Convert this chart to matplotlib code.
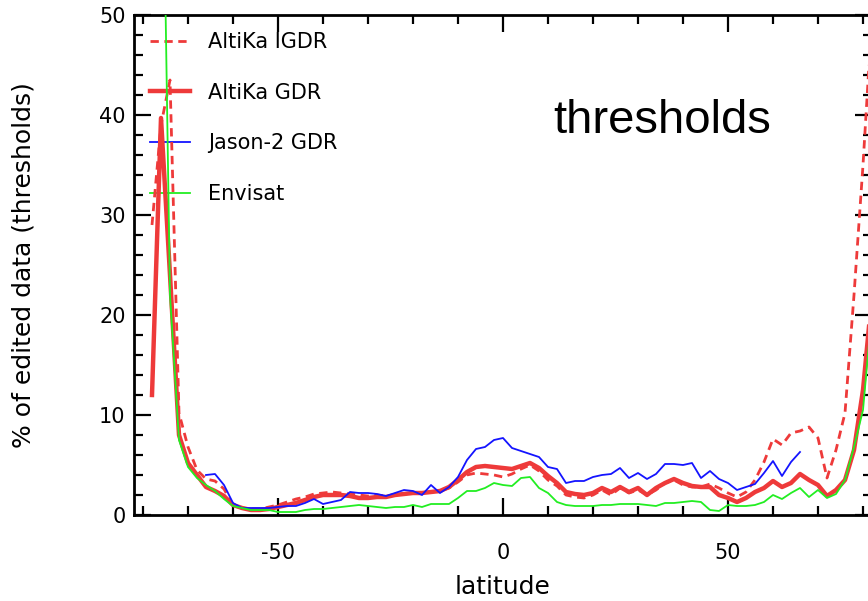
import numpy as np
import matplotlib
matplotlib.use("Agg")
import matplotlib.pyplot as plt
from matplotlib.ticker import MultipleLocator

plt.rcParams['font.family'] = ['DejaVu Sans']
plt.rcParams['axes.unicode_minus'] = False

# Latitude bins (2 degrees) for each mission
lat_altika = np.arange(-78, 83, 2)
lat_jason2 = np.arange(-66, 67, 2)
lat_envisat = np.arange(-76, 83, 2)

# Percentage of edited data per latitude bin
altika_igdr = [29.0, 39.0, 43.5, 10.2, 6.8, 4.5, 3.6, 3.4, 2.6, 1.0,
               0.7, 0.6, 0.6, 0.8, 1.0, 1.3, 1.6, 1.8, 2.1, 2.2,
               2.3, 2.2, 2.1, 2.0, 1.9, 2.0, 1.9, 2.0, 2.1, 2.2,
               2.2, 2.3, 2.4, 2.7, 3.3, 4.0, 4.2, 4.1, 4.0, 3.8,
               4.1, 4.6, 5.0, 4.4, 3.5, 2.9, 2.0, 1.8, 1.7, 2.0,
               2.5, 2.0, 2.7, 2.2, 2.5, 2.0, 2.5, 3.2, 3.5, 3.0,
               2.8, 2.8, 3.1, 2.7, 2.2, 1.8, 2.3, 3.5, 5.3, 7.6,
               7.0, 8.2, 8.4, 8.8, 7.7, 3.7, 6.5, 10.2, 22.0, 35.0,
               50.0]
altika_gdr = [12.0, 39.7, 24.0, 8.0, 5.2, 4.0, 2.8, 2.4, 1.9, 1.0,
              0.7, 0.5, 0.5, 0.6, 0.8, 1.0, 1.2, 1.5, 1.8, 2.0,
              2.0, 2.0, 1.9, 1.7, 1.7, 1.8, 1.8, 2.0, 2.1, 2.2,
              2.2, 2.3, 2.4, 2.8, 3.5, 4.3, 4.8, 4.9, 4.8, 4.7,
              4.6, 4.9, 5.2, 4.7, 3.9, 3.2, 2.3, 2.1, 2.0, 2.2,
              2.7, 2.3, 2.8, 2.3, 2.7, 2.0, 2.7, 3.2, 3.6, 3.2,
              2.9, 2.8, 2.8, 2.0, 1.7, 1.3, 1.7, 2.3, 2.7, 3.4,
              2.8, 3.2, 4.1, 3.5, 3.0, 1.9, 2.5, 3.5, 6.5, 12.5,
              22.0]
jason2_gdr = [4.0, 4.1, 3.0, 1.2, 0.7, 0.7, 0.7, 0.7, 0.8, 0.9,
              0.9, 1.2, 1.6, 1.1, 1.3, 1.5, 2.3, 2.2, 2.2, 2.1,
              1.9, 2.2, 2.5, 2.4, 2.0, 3.0, 2.2, 2.8, 3.8, 5.5,
              6.6, 6.8, 7.5, 7.7, 6.7, 6.4, 6.1, 5.8, 4.8, 4.6,
              3.2, 3.4, 3.4, 3.8, 4.0, 4.1, 4.7, 3.7, 4.2, 3.6,
              4.1, 5.1, 5.1, 5.0, 5.2, 3.7, 4.4, 3.6, 3.2, 2.5,
              2.8, 3.1, 4.2, 5.4, 3.9, 5.3, 6.3]
envisat = [80.0, 22.0, 7.5, 4.8, 3.7, 3.0, 2.4, 1.6, 0.9, 0.7,
           0.5, 0.5, 0.5, 0.3, 0.3, 0.3, 0.5, 0.6, 0.6, 0.7,
           0.8, 0.9, 1.0, 0.9, 0.8, 0.7, 0.8, 0.8, 1.0, 0.8,
           1.1, 1.1, 1.1, 1.7, 2.4, 2.4, 2.7, 3.2, 3.0, 2.9,
           3.7, 3.8, 2.7, 2.2, 1.3, 1.0, 0.9, 0.9, 0.9, 1.0,
           1.0, 1.1, 1.1, 1.1, 1.0, 0.9, 1.2, 1.2, 1.3, 1.4,
           1.3, 0.5, 0.4, 1.0, 0.9, 0.9, 1.0, 1.3, 2.0, 1.6,
           2.2, 2.7, 1.8, 2.5, 1.7, 2.1, 3.5, 6.8, 10.5, 20.5]

series_labels = ["AltiKa IGDR", "AltiKa GDR", "Jason-2 GDR", "Envisat"]

red = '#EE3A3A'
blue = '#1414FF'
green = '#22EE22'

fig = plt.figure(figsize=(8.68, 6.01), dpi=100)
ax = fig.add_axes([134 / 868, 86 / 601, 738 / 868, 500 / 601])

l_igdr, = ax.plot(lat_altika, altika_igdr, color=red, lw=2.0,
                  dashes=(3.0, 2.0), zorder=3)
l_gdr, = ax.plot(lat_altika, altika_gdr, color=red, lw=3.2, zorder=2,
                 solid_joinstyle='round')
l_j2, = ax.plot(lat_jason2, jason2_gdr, color=blue, lw=1.3, zorder=4)
l_en, = ax.plot(lat_envisat, envisat, color=green, lw=1.3, zorder=5)

ax.set_xlim(-82, 82)
ax.set_ylim(0, 50)
ax.xaxis.set_major_locator(MultipleLocator(50))
ax.xaxis.set_minor_locator(MultipleLocator(10))
ax.yaxis.set_major_locator(MultipleLocator(10))
ax.yaxis.set_minor_locator(MultipleLocator(2))
ax.tick_params(which='both', direction='in', top=True, right=True,
               width=1.6, labelsize=15, color='black')
ax.tick_params(which='major', length=12)
ax.tick_params(which='minor', length=6.5)
ax.tick_params(axis='x', which='major', pad=20)
ax.tick_params(axis='y', which='major', pad=6)
for sp in ax.spines.values():
    sp.set_linewidth(2.0)

ax.set_xlabel('latitude', fontsize=18, labelpad=9)
ax.set_ylabel('% of edited data (thresholds)', fontsize=18)
ax.yaxis.set_label_coords(-0.133, 0.5)

ax.legend([l_igdr, l_gdr, l_j2, l_en], series_labels, loc='upper left',
          bbox_to_anchor=(0.0217, 0.966), frameon=False, fontsize=15,
          handlelength=1.92, handletextpad=0.87, labelspacing=1.47,
          borderpad=0, borderaxespad=0).set_zorder(1)

ax.text(0.7154, 0.764, 'thresholds', transform=ax.transAxes,
        ha='center', va='baseline', fontsize=34, family='Liberation Sans')

fig.savefig('out.png', dpi=100)
